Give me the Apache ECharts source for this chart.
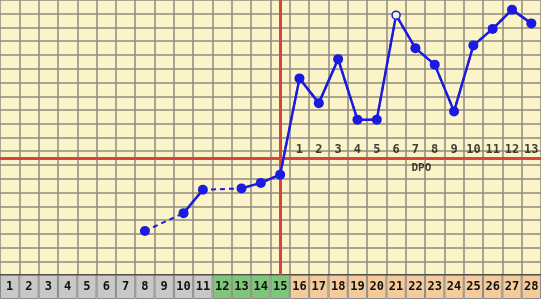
<!DOCTYPE html>
<html><head><meta charset="utf-8">
<script src="https://cdn.jsdelivr.net/npm/echarts@6/dist/echarts.min.js"></script>
<style>html,body{margin:0;padding:0;background:#fbf4c9;}#c{width:541px;height:299px;}</style>
</head><body><div id="c"></div>
<script>
var days = ['1','2','3','4','5','6','7','8','9','10','11','12','13','14','15','16','17','18','19','20','21','22','23','24','25','26','27','28'];
var temps = [null,null,null,null,null,null,null,97.32,null,97.45,97.62,null,97.63,97.67,97.73,98.43,98.25,98.57,98.13,98.13,98.89,98.65,98.53,98.19,98.67,98.79,98.93,98.83];
var openDays = ['21'];
var ovulationDay = '15';
var coverline = 97.85;
var dpoDays = ['16','17','18','19','20','21','22','23','24','25','26','27','28'];
var dpoLabels = ['1','2','3','4','5','6','7','8','9','10','11','12','13'];
var dpoLabelTemp = 97.91;
var dpoTitleDay = '22';
var dpoTitleTemp = 97.78;
var dpoTitle = 'DPO';
var grayDays = ['1','2','3','4','5','6','7','8','9','10','11'];
var greenDays = ['12','13','14','15'];
var orangeDays = ['16','17','18','19','20','21','22','23','24','25','26','27','28'];
var yMin = 97.0, yMax = 99.0, yStep = 0.1;

var BLUE = '#1a1ae0';
var RED = '#d8453a';
var FONT = 'DejaVu Sans Mono';

var lineData = temps.map(function(t, i){
  if (t === null) return null;
  if (openDays.indexOf(days[i]) >= 0) {
    return {value: t, symbol: 'circle', symbolSize: 8,
      itemStyle: {color: '#f3f0e0', borderColor: BLUE, borderWidth: 1.5}};
  }
  return t;
});

var stripData = days.map(function(d){
  var col = grayDays.indexOf(d) >= 0 ? '#c8c8c8' : (greenDays.indexOf(d) >= 0 ? '#7ec77a' : '#f5cb9b');
  return {value: 1, itemStyle: {color: col}};
});

var chart = echarts.init(document.getElementById('c'));
chart.setOption({
  animation: false,
  backgroundColor: '#fbf4c9',
  grid: [
    {left: 0, right: 0, top: 0, height: 275},
    {left: 0, right: 0, top: 275, bottom: 0}
  ],
  xAxis: [
    {type: 'category', data: days, gridIndex: 0, boundaryGap: true,
     axisLine: {show: true, lineStyle: {color: '#333333', width: 1.5}}, axisTick: {show: false}, axisLabel: {show: false},
     splitLine: {show: true, interval: 0, lineStyle: {color: '#8f8a7c', width: 1.5}}},
    {type: 'category', data: days, gridIndex: 1, boundaryGap: true,
     axisLine: {show: false}, axisTick: {show: false}, axisLabel: {show: false},
     splitLine: {show: false}}
  ],
  yAxis: [
    {type: 'value', gridIndex: 0, min: yMin, max: yMax, interval: yStep,
     axisLine: {show: false}, axisTick: {show: false}, axisLabel: {show: false},
     splitLine: {show: true, lineStyle: {color: '#8f8a7c', width: 1.5}}},
    {type: 'value', gridIndex: 1, min: 0, max: 1,
     axisLine: {show: false}, axisTick: {show: false}, axisLabel: {show: false},
     splitLine: {show: false}}
  ],
  series: [
    {type: 'line', xAxisIndex: 0, yAxisIndex: 0, data: temps, connectNulls: true,
     symbol: 'none', z: 3, silent: true,
     lineStyle: {color: BLUE, width: 2, type: [5, 4]}},
    {type: 'line', xAxisIndex: 0, yAxisIndex: 0, data: lineData, connectNulls: false,
     symbol: 'circle', symbolSize: 10, z: 5,
     itemStyle: {color: BLUE},
     lineStyle: {color: BLUE, width: 2.5},
     markLine: {silent: true, symbol: 'none', z: 2, label: {show: false},
       lineStyle: {color: RED, width: 3, type: 'solid'},
       data: [{xAxis: ovulationDay}, {yAxis: coverline}]}},
    {type: 'scatter', xAxisIndex: 0, yAxisIndex: 0, symbolSize: 0, z: 4,
     data: dpoDays.map(function(d, i){ return [d, dpoLabelTemp, dpoLabels[i]]; }),
     label: {show: true, position: 'inside', formatter: function(p){ return p.value[2]; },
       fontFamily: FONT, fontWeight: 'bold', fontSize: 12, color: '#111111'}},
    {type: 'scatter', xAxisIndex: 0, yAxisIndex: 0, symbolSize: 0, z: 4,
     data: [[dpoTitleDay, dpoTitleTemp, dpoTitle]],
     label: {show: true, position: 'inside', offset: [6, 0], formatter: function(p){ return p.value[2]; },
       fontFamily: FONT, fontWeight: 'bold', fontSize: 11, color: '#111111'}},
    {type: 'bar', xAxisIndex: 1, yAxisIndex: 1, data: stripData, barWidth: '100%',
     itemStyle: {borderColor: '#8a8a8a', borderWidth: 1},
     label: {show: true, position: 'inside', formatter: function(p){ return days[p.dataIndex]; },
       fontFamily: FONT, fontWeight: 'bold', fontSize: 12, color: '#111111'}}
  ]
});
</script>
</body></html>
